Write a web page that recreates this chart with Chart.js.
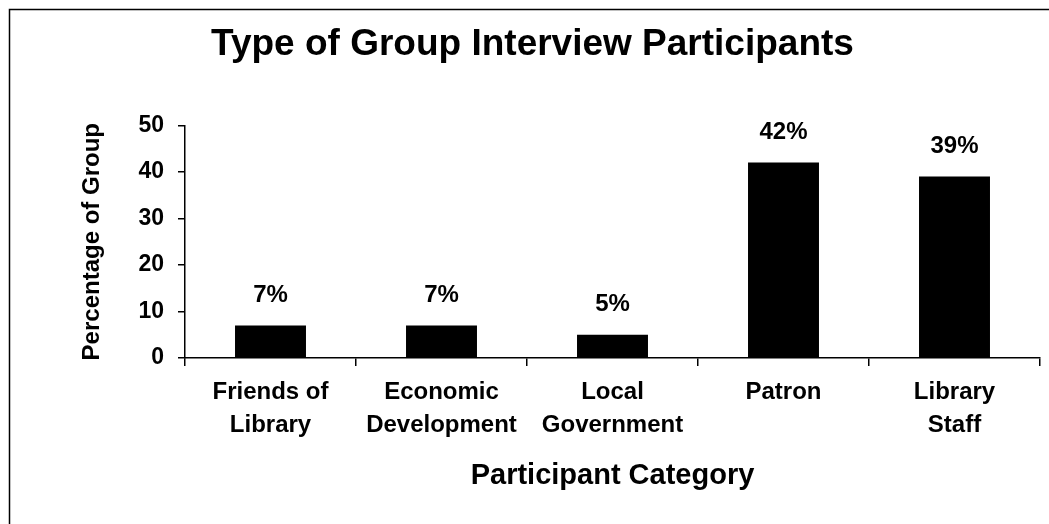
<!DOCTYPE html>
<html>
<head>
<meta charset="utf-8">
<script src="https://cdn.jsdelivr.net/npm/chart.js@4"></script>
<style>
  body { margin: 0; background: #fff; }
</style>
</head>
<body>
<canvas id="groupChart" width="1049" height="524"></canvas>
<script>
const categories = [["Friends of", "Library"], ["Economic", "Development"], ["Local", "Government"], "Patron", ["Library", "Staff"]];
const percentages = [7, 7, 5, 42, 39];
const yTicks = [0, 10, 20, 30, 40, 50];

const FONT = '"Liberation Sans", Arial, sans-serif';

// frame round the whole figure, as in the scan
const frame = {
  id: 'frame',
  afterDraw(chart) {
    const ctx = chart.ctx;
    ctx.save();
    ctx.strokeStyle = '#000';
    ctx.lineWidth = 1.5;
    ctx.strokeRect(9.5, 9.5, 1100, 600);
    ctx.restore();
  }
};

// "7%" etc above each bar
const barLabels = {
  id: 'barLabels',
  afterDatasetsDraw(chart) {
    const ctx = chart.ctx;
    const meta = chart.getDatasetMeta(0);
    ctx.save();
    ctx.font = 'bold 24px ' + FONT;
    ctx.fillStyle = '#000';
    ctx.textAlign = 'center';
    ctx.textBaseline = 'middle';
    meta.data.forEach((bar, i) => {
      ctx.fillText(percentages[i] + '%', bar.x, bar.y - 30);
    });
    ctx.restore();
  }
};

const config = {
  type: 'bar',
  data: {
    labels: categories,
    datasets: [{
      label: 'Percentage of Group',
      data: percentages,
      backgroundColor: '#000',
      borderWidth: 0,
      barPercentage: 0.415,
      categoryPercentage: 1
    }]
  },
  options: {
    responsive: false,
    animation: false,
    layout: { padding: { left: 25, right: 9, top: 0, bottom: 0 } },
    plugins: {
      legend: { display: false },
      tooltip: { enabled: false },
      title: {
        display: true,
        text: 'Type of Group Interview Participants',
        color: '#000',
        font: { family: FONT, size: 37, weight: 'bold', lineHeight: 1.2 },
        padding: { top: 23, bottom: 58 }
      }
    },
    scales: {
      x: {
        offset: true,
        grid: { display: true, offset: true, drawOnChartArea: false, drawTicks: true, tickLength: 8, color: '#000', lineWidth: 1.5 },
        border: { display: true, color: '#000', width: 1.5 },
        ticks: {
          color: '#000',
          padding: 10,
          maxRotation: 0,
          autoSkip: false,
          font: { family: FONT, size: 24, weight: 'bold', lineHeight: 1.38 }
        },
        title: {
          display: true,
          text: 'Participant Category',
          color: '#000',
          font: { family: FONT, size: 29, weight: 'bold', lineHeight: 1.2 },
          padding: { top: 0, bottom: 31 }
        },
        afterFit(scale) { scale.height = 166; }
      },
      y: {
        min: yTicks[0],
        max: yTicks[yTicks.length - 1],
        grid: { display: true, drawOnChartArea: false, drawTicks: true, tickLength: 7, color: '#000', lineWidth: 1.5 },
        border: { display: true, color: '#000', width: 1.5 },
        ticks: {
          stepSize: 10,
          color: '#000',
          padding: 14,
          font: { family: FONT, size: 23, weight: 'bold' }
        },
        title: {
          display: true,
          text: 'Percentage of Group',
          color: '#000',
          font: { family: FONT, size: 24, weight: 'bold', lineHeight: 1.2 },
          padding: { top: 53, bottom: 0 }
        },
        afterFit(scale) { scale.width = 160; }
      }
    }
  },
  plugins: [barLabels, frame]
};

const groupChart = new Chart(document.getElementById('groupChart'), config);
</script>
</body>
</html>
